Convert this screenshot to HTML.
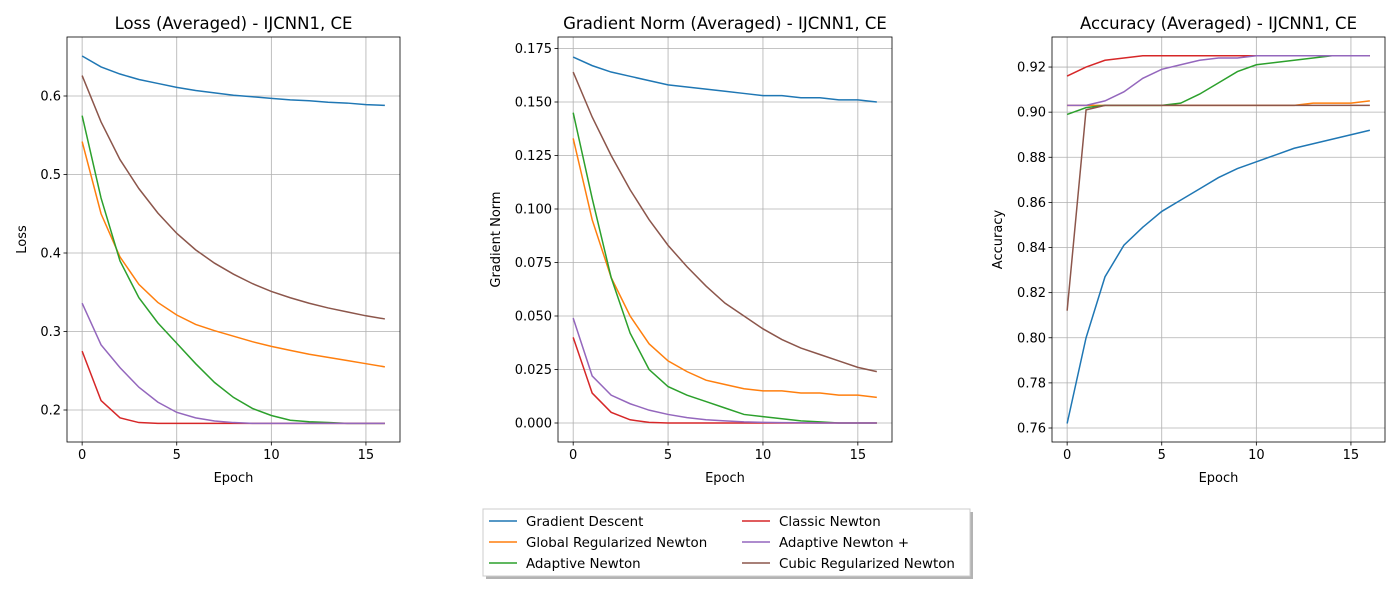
<!DOCTYPE html>
<html><head><meta charset="utf-8"><style>
body{margin:0;background:#fff;font-family:"Liberation Sans","DejaVu Sans",sans-serif;}
svg text{font-family:"DejaVu Sans","Liberation Sans",sans-serif;}
</style></head><body>
<svg id="fig" width="1400" height="600" xmlns="http://www.w3.org/2000/svg"></svg>
<script>
const epochs=[0,1,2,3,4,5,6,7,8,9,10,11,12,13,14,15,16];
const seriesNames=["Gradient Descent","Global Regularized Newton","Adaptive Newton","Classic Newton","Adaptive Newton +","Cubic Regularized Newton"];
const colors=["#1f77b4","#ff7f0e","#2ca02c","#d62728","#9467bd","#8c564b"];
const lossGD=[.651,.637,.628,.621,.616,.611,.607,.604,.601,.599,.597,.595,.594,.592,.591,.589,.588];
const lossGRN=[.542,.45,.395,.36,.337,.321,.309,.301,.294,.287,.281,.276,.271,.267,.263,.259,.255];
const lossAN=[.575,.47,.39,.343,.311,.285,.259,.235,.216,.202,.193,.187,.185,.184,.183,.183,.183];
const lossCN=[.275,.212,.190,.184,.183,.183,.183,.183,.183,.183,.183,.183,.183,.183,.183,.183,.183];
const lossANP=[.336,.283,.254,.229,.210,.197,.190,.186,.184,.183,.183,.183,.183,.183,.183,.183,.183];
const lossCRN=[.626,.567,.519,.482,.451,.425,.404,.387,.373,.361,.351,.343,.336,.330,.325,.320,.316];
const gnGD=[.171,.167,.164,.162,.160,.158,.157,.156,.155,.154,.153,.153,.152,.152,.151,.151,.150];
const gnGRN=[.133,.095,.068,.050,.037,.029,.024,.020,.018,.016,.015,.015,.014,.014,.013,.013,.012];
const gnAN=[.145,.105,.068,.042,.025,.017,.013,.010,.007,.004,.003,.002,.001,.0005,0,0,0];
const gnCN=[.040,.014,.005,.0015,.0003,0,0,0,0,0,0,0,0,0,0,0,0];
const gnANP=[.049,.022,.013,.009,.006,.004,.0025,.0015,.001,.0005,.0003,.0002,.0001,0,0,0,0];
const gnCRN=[.164,.143,.125,.109,.095,.083,.073,.064,.056,.050,.044,.039,.035,.032,.029,.026,.024];
const accGD=[.762,.800,.827,.841,.849,.856,.861,.866,.871,.875,.878,.881,.884,.886,.888,.890,.892];
const accGRN=[.903,.903,.903,.903,.903,.903,.903,.903,.903,.903,.903,.903,.903,.904,.904,.904,.905];
const accAN=[.899,.902,.903,.903,.903,.903,.904,.908,.913,.918,.921,.922,.923,.924,.925,.925,.925];
const accCN=[.916,.920,.923,.924,.925,.925,.925,.925,.925,.925,.925,.925,.925,.925,.925,.925,.925];
const accANP=[.903,.903,.905,.909,.915,.919,.921,.923,.924,.924,.925,.925,.925,.925,.925,.925,.925];
const accCRN=[.812,.901,.903,.903,.903,.903,.903,.903,.903,.903,.903,.903,.903,.903,.903,.903,.903];
const xTicks=[0,5,10,15];
const lossTicks=[0.2,0.3,0.4,0.5,0.6];
const gnTicks=[0,0.025,0.05,0.075,0.1,0.125,0.15,0.175];
const accTicks=[0.76,0.78,0.80,0.82,0.84,0.86,0.88,0.90,0.92];
const NS="http://www.w3.org/2000/svg";
const svg=document.getElementById('fig');
function mk(tag,attrs,parent){const e=document.createElementNS(NS,tag);for(const k in attrs)e.setAttribute(k,attrs[k]);(parent||svg).appendChild(e);return e;}
function chart(cfg){
 const {x0,x1,y0,y1,ymin,ymax,title,ylabel,ticks,dec,data,key}=cfg;
 const g=mk('g',{});
 
 
 const ppu=(x1-x0)/17.6;
 const sx=v=>x0+(v+0.8)*ppu;
 const sy=v=>y1-(v-ymin)/(ymax-ymin)*(y1-y0);
 xTicks.forEach(t=>{mk('line',{x1:sx(t),x2:sx(t),y1:y0,y2:y1,stroke:'#b0b0b0','stroke-width':0.8},g);
  mk('line',{x1:sx(t),x2:sx(t),y1:y1,y2:y1+3.5,stroke:'#000','stroke-width':0.8},g);
  const tx=mk('text',{x:sx(t),y:y1+17,'font-size':13,'text-anchor':'middle'},g);tx.textContent=t;
  });
 ticks.forEach(t=>{mk('line',{x1:x0,x2:x1,y1:sy(t),y2:sy(t),stroke:'#b0b0b0','stroke-width':0.8},g);
  mk('line',{x1:x0-3.5,x2:x0,y1:sy(t),y2:sy(t),stroke:'#000','stroke-width':0.8},g);
  const tx=mk('text',{x:x0-6,y:sy(t)+4.5,'font-size':13,'text-anchor':'end'},g);tx.textContent=t.toFixed(dec);
  });
 data.forEach((arr,i)=>{const p=mk('polyline',{points:arr.map((v,j)=>sx(epochs[j])+','+sy(v)).join(' '),fill:'none',stroke:colors[i],'stroke-width':1.5},g);
  });
 mk('rect',{x:x0,y:y0,width:x1-x0,height:y1-y0,fill:'none',stroke:'#000','stroke-width':0.8},g);
 const tt=mk('text',{x:(x0+x1)/2,y:y0-8,'font-size':16.5,'text-anchor':'middle'},g);tt.textContent=title;
 
 const xl=mk('text',{x:(x0+x1)/2,y:y1+40,'font-size':13,'text-anchor':'middle'},g);xl.textContent='Epoch';
 
 const yx=cfg.ylx, yy=(y0+y1)/2;
 const yl=mk('text',{x:yx,y:yy,'font-size':13,'text-anchor':'middle',transform:`rotate(-90 ${yx} ${yy})`},g);yl.textContent=ylabel;
 
}
chart({key:'loss',x0:67,x1:400,y0:37,y1:442,ymin:0.2-(442-410)/785,ymax:0.2+(410-37)/785,title:'Loss (Averaged) - IJCNN1, CE',ylabel:'Loss',ticks:lossTicks,dec:1,ylx:26,data:[lossGD,lossGRN,lossAN,lossCN,lossANP,lossCRN]});
chart({key:'gradnorm',x0:558,x1:892,y0:37,y1:442,ymin:-(442-423)/2140,ymax:(423-37)/2140,title:'Gradient Norm (Averaged) - IJCNN1, CE',ylabel:'Gradient Norm',ticks:gnTicks,dec:3,ylx:500,data:[gnGD,gnGRN,gnAN,gnCN,gnANP,gnCRN]});
chart({key:'accuracy',x0:1052,x1:1385,y0:37,y1:442,ymin:0.76-(442-428)/2256,ymax:0.76+(428-37)/2256,title:'Accuracy (Averaged) - IJCNN1, CE',ylabel:'Accuracy',ticks:accTicks,dec:2,ylx:1002,data:[accGD,accGRN,accAN,accCN,accANP,accCRN]});
const lg=mk('g',{});


mk('rect',{x:486,y:512,width:487,height:67,fill:'#808080',opacity:0.6},lg);
mk('rect',{x:483,y:509,width:487,height:67,fill:'#fff',stroke:'#ccc','stroke-width':1},lg);
const order=[0,1,2,3,4,5];
order.forEach((si,k)=>{const col=Math.floor(k/3),row=k%3;const lx=col?742:489,ly=521+row*21;
 const e=mk('g',{},lg);
 
 
 mk('line',{x1:lx,x2:lx+28,y1:ly,y2:ly,stroke:colors[si],'stroke-width':1.5},e);
 const t=mk('text',{x:lx+37,y:ly+5,'font-size':13.4},e);t.textContent=seriesNames[si];});
</script>
</body></html>
